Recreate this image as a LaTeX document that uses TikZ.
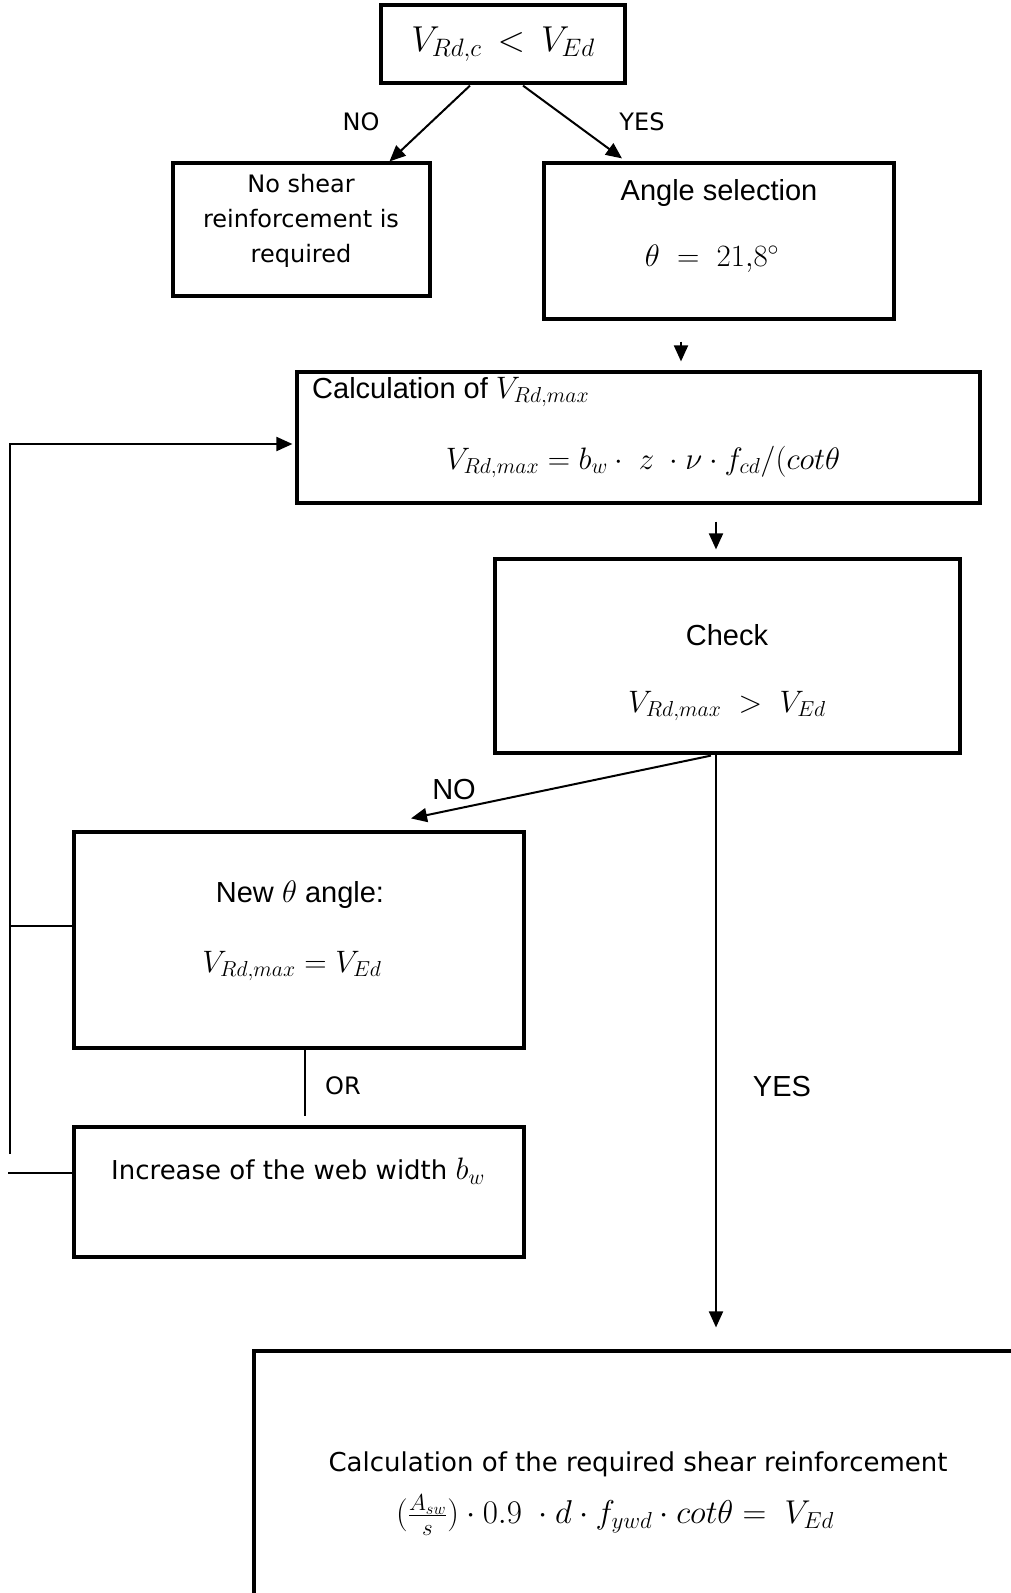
\RequirePackage{fix-cm}
\documentclass[tikz,border=0pt]{standalone}
\usepackage{amsmath}
\usepackage[no-math]{fontspec}
\setmainfont{Liberation Sans}
\newfontfamily\tah{DejaVu Sans}
\usetikzlibrary{arrows.meta,calc}
\begin{document}
\begin{tikzpicture}[x=1pt,y=-1pt,
  box/.style={draw, line width=3.2pt, inner sep=0pt, minimum width=#1},
  arr/.style={line width=2pt, -{Triangle[length=16pt,width=14pt]}},
  ln/.style={line width=2pt},
  atxt/.style={font=\fontsize{29}{34}\selectfont, inner sep=0pt},
  ttxt/.style={font=\tah\fontsize{24}{35}\selectfont, inner sep=0pt},
  mtxt/.style={font=\fontsize{31}{38}\selectfont, inner sep=0pt}]
\useasboundingbox (0,0) rectangle (1011,1593);
\clip (0,0) rectangle (1011,1593);
% boxes
\node[box=244pt, minimum height=78pt] (top) at (503,44) {};
\node[box=257pt, minimum height=133pt] (nos) at (301.5,229.5) {};
\node[box=350pt, minimum height=156pt] (angle) at (719,241) {};
\node[box=683pt, minimum height=131pt] (calc) at (638.5,437.5) {};
\node[box=465pt, minimum height=194pt] (check) at (727.5,656) {};
\node[box=450pt, minimum height=216pt] (newb) at (299,940) {};
\node[box=450pt, minimum height=130pt] (inc) at (299,1192) {};
\node[box=786pt, minimum height=269pt] (final) at (647,1485.5) {};
% texts
\node[mtxt, font=\fontsize{36}{42}\selectfont] (toptxt) at (503,44) {$V_{Rd,c}\,<\,V_{Ed}$};
\node[ttxt, align=center] (nostxt) at (301,221) {No shear\\reinforcement is\\required};
\node[atxt] (angtxt) at (719,193) {Angle selection};
\node[mtxt] (angf) at (712,259) {$\theta\;=\;21{,}8^\circ$};
\node[atxt, anchor=west] (calctxt) at (312,392) {Calculation of {\fontsize{31}{38}\selectfont$V_{Rd,max}$}};
\node[mtxt] (calcf) at (643,462) {$V_{Rd,max} = b_w\cdot\; z\;\cdot \nu\cdot f_{cd}/(cot\theta$};
\node[atxt] (chktxt) at (727,635) {Check};
\node[mtxt] (chkf) at (727,706) {$V_{Rd,max}\;>\;V_{Ed}$};
\node[atxt] (newtxt) at (300,895) {New {\fontsize{31}{38}\selectfont$\theta$} angle:};
\node[mtxt] (newf) at (292,966) {$V_{Rd,max} = V_{Ed}$};
\node[ttxt, font=\tah\fontsize{26}{35}\selectfont] (inctxt) at (298,1171) {Increase of the web width {\fontsize{31}{36}\selectfont$b_w$}};
\node[ttxt, font=\tah\fontsize{26}{35}\selectfont] (fintxt) at (638,1464) {Calculation of the required shear reinforcement};
\node[mtxt, font=\fontsize{33}{40}\selectfont] (finf) at (615,1515) {$(\tfrac{A_{sw}}{s})\cdot 0.9\;\cdot d\cdot f_{ywd}\cdot cot\theta =\; V_{Ed}$};
% labels
\node[ttxt] (no1) at (361,122) {NO};
\node[ttxt] (yes1) at (642,122) {YES};
\node[atxt] (no2) at (454,790) {NO};
\node[atxt] (yes2) at (782,1087) {YES};
\node[ttxt] (or) at (343,1086) {OR};
% connectors
\draw[arr] ($(top.south)+(-33,1)$) -- ($(nos.north)+(88,0)$);
\draw[arr] ($(top.south)+(20,1)$) -- ($(angle.north)+(-97,-3)$);
\draw[arr] ($(angle.south)+(-38,21)$) -- ($(calc.north)+(42.5,-9)$);
\draw[arr] ($(calc.south)+(77.5,17)$) -- ($(check.north)+(-11.5,-8)$);
\draw[arr] ($(check.south)+(-16.5,1)$) -- ($(newb.north)+(112,-12)$);
\draw[arr] ($(check.south)+(-11.5,0)$) -- ($(final.north)+(69,-22)$);
\coordinate (lb) at (10,1154);
\coordinate (lt) at (10,444);
\draw[arr] (lb) -- (lt) -- ($(calc.west)+(-3,6.5)$);
\draw[ln] ($(newb.west)+(0,-14)$) -- ++(-62,0);
\draw[ln] ($(inc.west)+(0,-19)$) -- ++(-64,0);
\draw[ln] ($(newb.south)+(6,0)$) -- ($(inc.north)+(6,-9)$);
\end{tikzpicture}
\end{document}
